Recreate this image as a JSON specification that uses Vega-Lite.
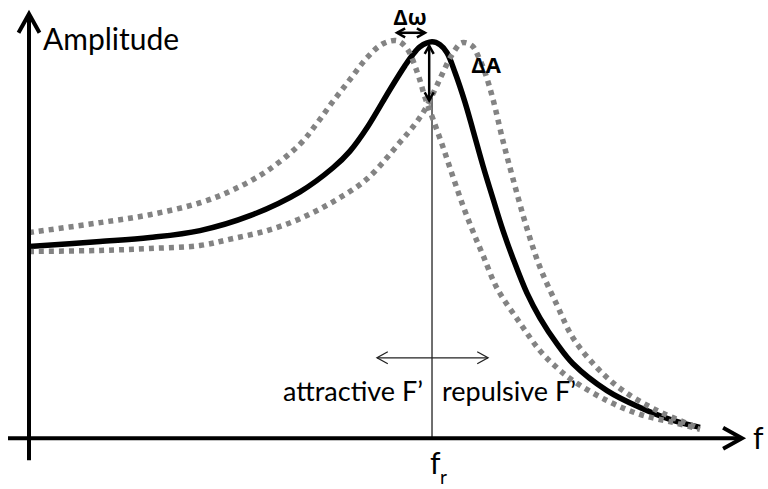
{
  "$schema": "https://vega.github.io/schema/vega-lite/v6.json",
  "width": 768,
  "height": 489,
  "autosize": {"type": "fit", "contains": "padding"},
  "padding": 0,
  "background": "white",
  "config": {"view": {"stroke": null}},
  "datasets": {
    "curves": [
      {"curve": "black", "f": 0, "A": 4.837},
      {"curve": "black", "f": 1.762, "A": 4.962},
      {"curve": "black", "f": 3.002, "A": 5.063},
      {"curve": "black", "f": 4.243, "A": 5.238},
      {"curve": "black", "f": 5.484, "A": 5.614},
      {"curve": "black", "f": 6.725, "A": 6.216},
      {"curve": "black", "f": 7.543, "A": 6.822},
      {"curve": "black", "f": 7.965, "A": 7.243},
      {"curve": "black", "f": 8.412, "A": 7.87},
      {"curve": "black", "f": 8.958, "A": 8.797},
      {"curve": "black", "f": 9.33, "A": 9.398},
      {"curve": "black", "f": 9.504, "A": 9.649},
      {"curve": "black", "f": 9.702, "A": 9.875},
      {"curve": "black", "f": 10.0, "A": 10.0},
      {"curve": "black", "f": 10.199, "A": 9.925},
      {"curve": "black", "f": 10.372, "A": 9.724},
      {"curve": "black", "f": 10.571, "A": 9.223},
      {"curve": "black", "f": 10.819, "A": 8.471},
      {"curve": "black", "f": 11.017, "A": 7.769},
      {"curve": "black", "f": 11.266, "A": 6.867},
      {"curve": "black", "f": 11.514, "A": 6.04},
      {"curve": "black", "f": 11.762, "A": 5.238},
      {"curve": "black", "f": 12.01, "A": 4.536},
      {"curve": "black", "f": 12.357, "A": 3.659},
      {"curve": "black", "f": 12.68, "A": 3.033},
      {"curve": "black", "f": 13.102, "A": 2.381},
      {"curve": "black", "f": 13.499, "A": 1.88},
      {"curve": "black", "f": 14.342, "A": 1.203},
      {"curve": "black", "f": 15.161, "A": 0.777},
      {"curve": "black", "f": 15.98, "A": 0.451},
      {"curve": "black", "f": 16.65, "A": 0.276},

      {"curve": "attractive", "f": 0, "A": 5.188},
      {"curve": "attractive", "f": 1.762, "A": 5.439},
      {"curve": "attractive", "f": 3.002, "A": 5.639},
      {"curve": "attractive", "f": 4.243, "A": 5.94},
      {"curve": "attractive", "f": 5.062, "A": 6.266},
      {"curve": "attractive", "f": 5.906, "A": 6.742},
      {"curve": "attractive", "f": 6.725, "A": 7.419},
      {"curve": "attractive", "f": 7.146, "A": 7.945},
      {"curve": "attractive", "f": 7.543, "A": 8.496},
      {"curve": "attractive", "f": 7.965, "A": 9.048},
      {"curve": "attractive", "f": 8.387, "A": 9.599},
      {"curve": "attractive", "f": 8.784, "A": 9.95},
      {"curve": "attractive", "f": 9.132, "A": 10.025},
      {"curve": "attractive", "f": 9.38, "A": 9.825},
      {"curve": "attractive", "f": 9.653, "A": 9.173},
      {"curve": "attractive", "f": 9.826, "A": 8.596},
      {"curve": "attractive", "f": 10.025, "A": 8.045},
      {"curve": "attractive", "f": 10.273, "A": 7.343},
      {"curve": "attractive", "f": 10.521, "A": 6.591},
      {"curve": "attractive", "f": 10.769, "A": 5.865},
      {"curve": "attractive", "f": 11.017, "A": 5.213},
      {"curve": "attractive", "f": 11.266, "A": 4.612},
      {"curve": "attractive", "f": 11.613, "A": 3.784},
      {"curve": "attractive", "f": 12.184, "A": 2.907},
      {"curve": "attractive", "f": 12.68, "A": 2.206},
      {"curve": "attractive", "f": 13.102, "A": 1.779},
      {"curve": "attractive", "f": 13.499, "A": 1.454},
      {"curve": "attractive", "f": 14.342, "A": 0.952},
      {"curve": "attractive", "f": 15.161, "A": 0.602},
      {"curve": "attractive", "f": 15.98, "A": 0.401},
      {"curve": "attractive", "f": 16.65, "A": 0.226},

      {"curve": "repulsive", "f": 0, "A": 4.712},
      {"curve": "repulsive", "f": 1.762, "A": 4.737},
      {"curve": "repulsive", "f": 3.002, "A": 4.787},
      {"curve": "repulsive", "f": 4.243, "A": 4.862},
      {"curve": "repulsive", "f": 5.062, "A": 5.038},
      {"curve": "repulsive", "f": 5.906, "A": 5.238},
      {"curve": "repulsive", "f": 6.725, "A": 5.539},
      {"curve": "repulsive", "f": 7.543, "A": 5.965},
      {"curve": "repulsive", "f": 8.387, "A": 6.541},
      {"curve": "repulsive", "f": 9.206, "A": 7.469},
      {"curve": "repulsive", "f": 9.578, "A": 7.92},
      {"curve": "repulsive", "f": 9.826, "A": 8.296},
      {"curve": "repulsive", "f": 10.074, "A": 8.797},
      {"curve": "repulsive", "f": 10.248, "A": 9.173},
      {"curve": "repulsive", "f": 10.496, "A": 9.674},
      {"curve": "repulsive", "f": 10.744, "A": 9.975},
      {"curve": "repulsive", "f": 10.993, "A": 9.9},
      {"curve": "repulsive", "f": 11.141, "A": 9.649},
      {"curve": "repulsive", "f": 11.315, "A": 9.223},
      {"curve": "repulsive", "f": 11.514, "A": 8.546},
      {"curve": "repulsive", "f": 11.762, "A": 7.494},
      {"curve": "repulsive", "f": 12.01, "A": 6.541},
      {"curve": "repulsive", "f": 12.357, "A": 5.288},
      {"curve": "repulsive", "f": 12.68, "A": 4.311},
      {"curve": "repulsive", "f": 13.102, "A": 3.358},
      {"curve": "repulsive", "f": 13.499, "A": 2.531},
      {"curve": "repulsive", "f": 14.094, "A": 1.779},
      {"curve": "repulsive", "f": 14.739, "A": 1.203},
      {"curve": "repulsive", "f": 15.583, "A": 0.702},
      {"curve": "repulsive", "f": 16.576, "A": 0.276}
    ],
    "segs": [
      {"seg": "yaxis", "weight": "thick", "f": 0, "A": -0.551},
      {"seg": "yaxis", "weight": "thick", "f": 0, "A": 10.6},
      {"seg": "xaxis", "weight": "thick", "f": -0.521, "A": 0},
      {"seg": "xaxis", "weight": "thick", "f": 17.62, "A": 0},
      {"seg": "dw", "weight": "mid", "f": 9.132, "A": 10.226},
      {"seg": "dw", "weight": "mid", "f": 9.826, "A": 10.226},
      {"seg": "dA", "weight": "mid", "f": 9.93, "A": 9.9},
      {"seg": "dA", "weight": "mid", "f": 9.93, "A": 8.52},
      {"seg": "fr", "weight": "thin", "f": 10.0, "A": 0},
      {"seg": "fr", "weight": "thin", "f": 10.0, "A": 8.6},
      {"seg": "force", "weight": "thin", "f": 8.635, "A": 2.03},
      {"seg": "force", "weight": "thin", "f": 11.39, "A": 2.03}
    ],
    "heads": [
      {"weight": "thick", "dir": "up", "f": 0, "A": 10.702},
      {"weight": "thick", "dir": "right", "f": 17.692, "A": 0},
      {"weight": "mid", "dir": "left", "f": 9.132, "A": 10.226},
      {"weight": "mid", "dir": "right", "f": 9.826, "A": 10.226},
      {"weight": "mid", "dir": "up", "f": 9.93, "A": 9.9},
      {"weight": "mid", "dir": "down", "f": 9.93, "A": 8.52},
      {"weight": "thin", "dir": "left", "f": 8.635, "A": 2.03},
      {"weight": "thin", "dir": "right", "f": 11.39, "A": 2.03}
    ],
    "labels": [
      {"role": "big", "t": "Amplitude", "f": 0.347, "A": 9.8},
      {"role": "big", "t": "f", "f": 17.965, "A": -0.276},
      {"role": "big", "t": "f", "f": 9.95, "A": -0.902},
      {"role": "sub", "t": "r", "f": 10.199, "A": -1.153},
      {"role": "leftof", "t": "attractive F’", "f": 9.777, "A": 0.952},
      {"role": "rightof", "t": "repulsive F’", "f": 10.248, "A": 0.952},
      {"role": "bold", "t": "Δω", "f": 9.454, "A": 10.426},
      {"role": "bold", "t": "ΔA", "f": 11.34, "A": 9.223}
    ]
  },
  "encoding": {
    "x": {"field": "f", "type": "quantitative", "scale": {"domain": [-0.7196, 18.337], "nice": false, "zero": false}, "axis": null},
    "y": {"field": "A", "type": "quantitative", "scale": {"domain": [-1.203, 11.053], "nice": false, "zero": false}, "axis": null}
  },
  "layer": [
    {
      "data": {"name": "segs"},
      "transform": [{"filter": "datum.weight == 'thin'"}],
      "mark": {"type": "line", "stroke": "#222222", "strokeWidth": 1.3},
      "encoding": {"detail": {"field": "seg"}}
    },
    {
      "data": {"name": "heads"},
      "transform": [{"filter": "datum.weight == 'thin'"}],
      "mark": {"type": "point", "filled": false, "opacity": 1, "stroke": "#222222", "strokeWidth": 1.3, "size": 144},
      "encoding": {"shape": {"field": "dir", "scale": {"domain": ["up", "down", "left", "right"], "range": ["M-1,1.8L0,0L1,1.8", "M-1,-1.8L0,0L1,-1.8", "M1.8,-1L0,0L1.8,1", "M-1.8,-1L0,0L-1.8,1"]}, "legend": null}}
    },
    {
      "data": {"name": "curves"},
      "transform": [{"filter": "datum.curve == 'black'"}],
      "mark": {"type": "line", "stroke": "black", "strokeWidth": 5.5, "interpolate": "catmull-rom"},
      "encoding": {"detail": {"field": "curve"}}
    },
    {
      "data": {"name": "curves"},
      "transform": [{"filter": "datum.curve != 'black'"}],
      "mark": {"type": "line", "stroke": "#838383", "strokeWidth": 5.5, "strokeDash": [5, 5], "interpolate": "catmull-rom"},
      "encoding": {"detail": {"field": "curve"}}
    },
    {
      "data": {"name": "segs"},
      "transform": [{"filter": "datum.weight == 'thick'"}],
      "mark": {"type": "line", "stroke": "black", "strokeWidth": 4},
      "encoding": {"detail": {"field": "seg"}}
    },
    {
      "data": {"name": "segs"},
      "transform": [{"filter": "datum.weight == 'mid'"}],
      "mark": {"type": "line", "stroke": "black", "strokeWidth": 2.5},
      "encoding": {"detail": {"field": "seg"}}
    },
    {
      "data": {"name": "heads"},
      "transform": [{"filter": "datum.weight == 'thick'"}],
      "mark": {"type": "point", "filled": false, "opacity": 1, "stroke": "black", "strokeWidth": 4, "size": 441},
      "encoding": {"shape": {"field": "dir", "legend": null}}
    },
    {
      "data": {"name": "heads"},
      "transform": [{"filter": "datum.weight == 'mid'"}],
      "mark": {"type": "point", "filled": false, "opacity": 1, "stroke": "black", "strokeWidth": 2.5, "size": 81},
      "encoding": {"shape": {"field": "dir", "legend": null}}
    },
    {
      "data": {"name": "labels"},
      "transform": [{"filter": "datum.role == 'big'"}],
      "mark": {"type": "text", "font": "Lato", "fontSize": 30, "align": "left", "baseline": "alphabetic", "color": "black"},
      "encoding": {"text": {"field": "t"}}
    },
    {
      "data": {"name": "labels"},
      "transform": [{"filter": "datum.role == 'sub'"}],
      "mark": {"type": "text", "font": "Lato", "fontSize": 19, "align": "left", "baseline": "alphabetic", "color": "black"},
      "encoding": {"text": {"field": "t"}}
    },
    {
      "data": {"name": "labels"},
      "transform": [{"filter": "datum.role == 'leftof'"}],
      "mark": {"type": "text", "font": "Lato", "fontSize": 27, "align": "right", "baseline": "alphabetic", "color": "black"},
      "encoding": {"text": {"field": "t"}}
    },
    {
      "data": {"name": "labels"},
      "transform": [{"filter": "datum.role == 'rightof'"}],
      "mark": {"type": "text", "font": "Lato", "fontSize": 27, "align": "left", "baseline": "alphabetic", "color": "black"},
      "encoding": {"text": {"field": "t"}}
    },
    {
      "data": {"name": "labels"},
      "transform": [{"filter": "datum.role == 'bold'"}],
      "mark": {"type": "text", "font": "Open Sans", "fontWeight": "bold", "fontSize": 22, "align": "center", "baseline": "alphabetic", "color": "black"},
      "encoding": {"text": {"field": "t"}}
    }
  ]
}
